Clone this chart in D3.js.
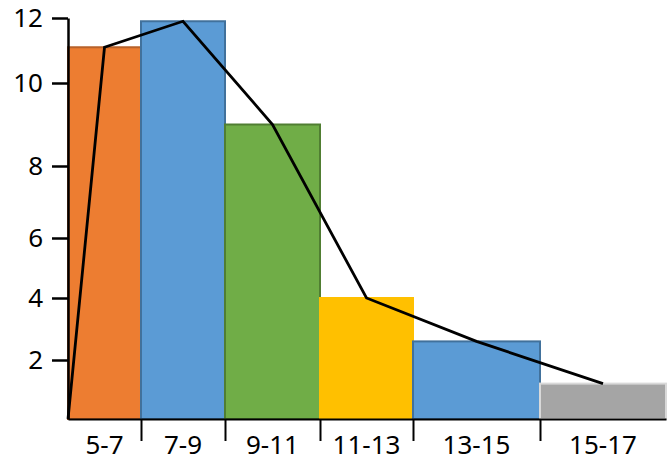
<!DOCTYPE html>
<html>
<head>
<meta charset="utf-8">
<script src="https://cdn.jsdelivr.net/npm/d3@7/dist/d3.min.js"></script>
<style>
  html, body { margin: 0; padding: 0; background: #fff; }
  svg { display: block; }
</style>
</head>
<body>
<svg id="chart" width="667" height="461"></svg>
<script>
// ---- data ----
const categories = ["5-7", "7-9", "9-11", "11-13", "13-15", "15-17"];
const binStart   = [5, 7, 9, 11, 13, 15];
const binEnd     = [7, 9, 11, 13, 15, 17];
const counts     = [11.1, 11.9, 9.0, 4.0, 2.6, 1.2];
const polyX      = [5, 6, 8, 10, 12, 14, 16];
const polyY      = [0, 11.1, 11.9, 9.0, 4.0, 2.6, 1.2];
const yTicks     = [2, 4, 6, 8, 10, 12];
const xTicks     = [7, 9, 11, 13, 15];
const fills      = ["#ED7D31", "#5B9BD5", "#70AD47", "#FFC000", "#5B9BD5", "#A5A5A5"];
const strokes    = ["#B8622A", "#41719C", "#507E32", "#FFC000", "#41719C", "#D9D9D9"];

// ---- scales (hand-drawn, uneven spacing) ----
const x = d3.scaleLinear()
  .domain([5, 7, 9, 11, 13, 15, 17])
  .range([68, 141, 225, 320, 413, 540, 666]);
const y = d3.scaleLinear()
  .domain([0, 2, 4, 6, 8, 10, 12])
  .range([419, 360, 298, 238, 166, 83, 18]);

const svg = d3.select("#chart");
const font = "'Noto Sans', 'Open Sans', sans-serif";

// bars
svg.append("g").selectAll("rect")
  .data(categories)
  .join("rect")
  .attr("x", (d, i) => x(binStart[i]))
  .attr("width", (d, i) => x(binEnd[i]) - x(binStart[i]))
  .attr("y", (d, i) => y(counts[i]))
  .attr("height", (d, i) => y(0) - y(counts[i]))
  .attr("fill", (d, i) => fills[i])
  .attr("stroke", (d, i) => strokes[i])
  .attr("stroke-width", 2);

// frequency polygon
svg.append("path")
  .datum(polyX.map((v, i) => [v, polyY[i]]))
  .attr("fill", "none")
  .attr("stroke", "#000")
  .attr("stroke-width", 2.8)
  .attr("stroke-linejoin", "miter")
  .attr("d", d3.line().x(d => x(d[0])).y(d => y(d[1])));

// y axis
const yAxis = svg.append("g")
  .attr("transform", `translate(${x(5)},0)`)
  .call(d3.axisLeft(y).tickValues(yTicks).tickSize(16).tickSizeOuter(0).tickPadding(9));
yAxis.attr("font-family", font).attr("font-size", 26);
yAxis.select(".domain").attr("stroke", "#000").attr("stroke-width", 2.5);
yAxis.selectAll(".tick line").attr("stroke", "#000").attr("stroke-width", 2.5);
yAxis.selectAll(".tick text")
  .attr("font-family", font).attr("font-size", 26).attr("fill", "#000");

// x axis
const xAxis = svg.append("g")
  .attr("transform", `translate(0,${y(0)})`)
  .call(d3.axisBottom(x).tickValues(xTicks).tickSize(22).tickSizeOuter(0).tickFormat(""));
xAxis.select(".domain").attr("stroke", "#000").attr("stroke-width", 2);
xAxis.selectAll(".tick line").attr("stroke", "#000").attr("stroke-width", 2);

// x category labels
svg.append("g").selectAll("text")
  .data(categories)
  .join("text")
  .attr("x", (d, i) => x((binStart[i] + binEnd[i]) / 2))
  .attr("y", 454)
  .attr("text-anchor", "middle")
  .attr("font-family", font)
  .attr("font-size", 26)
  .attr("fill", "#000")
  .text(d => d);
</script>
</body>
</html>
